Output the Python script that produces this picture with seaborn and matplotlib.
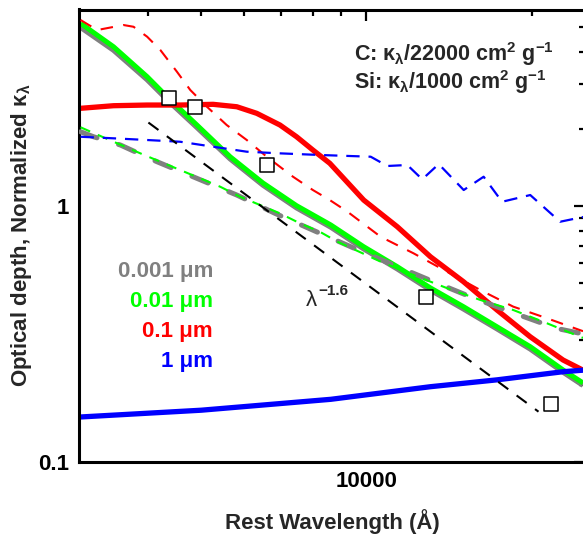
import matplotlib
matplotlib.use("Agg")
import matplotlib.pyplot as plt
import matplotlib.ticker as mticker
import seaborn as sns

# ---------------- data ----------------
# carbon grains (solid lines)
c_wl = [3020, 3467, 3992, 4362, 4918, 5652, 6488, 7468, 8621, 9896, 11390,
        13094, 15031, 17302, 19890, 22828, 24815]
c_001 = [5.183, 4.198, 3.204, 2.645, 2.074, 1.559, 1.230, 1.003, 0.843, 0.693,
         0.579, 0.478, 0.404, 0.337, 0.2817, 0.2284, 0.2032]          # 0.01 um
c_0001 = [5.00, 4.07, 3.12, 2.58, 2.03, 1.53, 1.207, 0.984, 0.827, 0.680,
          0.568, 0.469, 0.396, 0.331, 0.276, 0.224, 0.199]            # 0.001 um
c01_wl = [3020, 3467, 3992, 4585, 5264, 5813, 6321, 6966, 7468, 7996, 8585,
          9896, 11390, 13094, 15031, 17302, 19890, 22828, 24815]
c_01 = [2.411, 2.468, 2.483, 2.483, 2.499, 2.445, 2.304, 2.074, 1.866, 1.656,
        1.469, 1.055, 0.830, 0.633, 0.506, 0.392, 0.308, 0.2498, 0.228]  # 0.1 um
c1_wl = [3020, 5007, 8621, 13094, 17302, 22828, 24815]
c_1 = [0.1496, 0.159, 0.1754, 0.1965, 0.209, 0.2249, 0.228]           # 1 um

# silicate grains (dashed lines)
s01_wl = [3020, 3238, 3615, 3770, 3992, 4219, 4523, 4783, 5129, 5572, 6061,
          6590, 7357, 7996, 8585, 9245, 10624, 12197, 14042, 16140, 18525,
          21325, 24508, 24815]
s_01 = [5.339, 4.879, 5.104, 5.025, 4.594, 4.075, 3.351, 2.843, 2.445, 2.074,
        1.812, 1.559, 1.302, 1.155, 1.055, 0.950, 0.758, 0.653, 0.553, 0.469,
        0.404, 0.364, 0.327, 0.324]
s1_wl = [3020, 3467, 3992, 4585, 5264, 6061, 6966, 8268, 10190, 10925, 11880,
         12647, 13552, 15048, 16360, 17672, 19890, 22540, 24815]
s_1 = [1.866, 1.840, 1.812, 1.784, 1.706, 1.631, 1.607, 1.583, 1.559, 1.434,
       1.447, 1.272, 1.459, 1.155, 1.302, 1.039, 1.104, 0.868, 0.906]
s001_wl = [3020, 3283, 3521, 3880, 4219, 4585, 4986, 5421, 5893, 6409, 6966,
           7573, 8234, 8866, 10624, 12197, 14042, 16140, 18525, 21325, 24508, 24815]
s_001 = [2.032, 1.878, 1.759, 1.607, 1.490, 1.383, 1.283, 1.190, 1.087, 1.009,
         0.936, 0.856, 0.793, 0.725, 0.606, 0.537, 0.477, 0.429, 0.392, 0.348,
         0.308, 0.305]
s0001_wl = [3020, 3189, 3569, 4161, 4918, 5813, 6824, 8121, 9491, 11216, 13258,
            15672, 18525, 22233, 24815]
s_0001 = [1.952, 1.866, 1.732, 1.490, 1.283, 1.104, 0.936, 0.793, 0.685, 0.588,
          0.506, 0.437, 0.382, 0.332, 0.316]

# lambda^-1.6 reference line (end points)
pl_wl = [4013, 20590]
pl_val = [2.121, 0.1569]

# open squares
sq_wl = [4368, 4883, 6590, 12862, 21682]
sq_val = [2.652, 2.445, 1.447, 0.442, 0.168]

size_labels = ["0.001 \u03bcm", "0.01 \u03bcm", "0.1 \u03bcm", "1 \u03bcm"]
size_colors = ["#808080", "#00ff00", "#ff0000", "#0000ff"]

# ---------------- style ----------------
sns.set_style("white")
plt.rcParams["font.family"] = ["Liberation Sans", "DejaVu Sans"]
plt.rcParams["font.weight"] = "bold"
plt.rcParams["mathtext.fontset"] = "custom"
plt.rcParams["mathtext.rm"] = "Liberation Sans:bold"
plt.rcParams["mathtext.it"] = "Liberation Sans:bold"
plt.rcParams["mathtext.bf"] = "Liberation Sans:bold"
plt.rcParams["mathtext.default"] = "rm"

W, H = 583, 536
fig = plt.figure(figsize=(W / 100, H / 100), dpi=100)
ax = fig.add_axes([79 / W, (H - 461.7) / H, 505.8 / W, 452.2 / H])
ax.set_xscale("log")
ax.set_yscale("log")

GRAY, GREEN, RED, BLUE = size_colors

def line(x, y, color, lw, dashes=None, cap="butt", z=2):
    sns.lineplot(x=x, y=y, ax=ax, color=color, lw=lw, estimator=None,
                 sort=False, zorder=z)
    ln = ax.lines[-1]
    ln.set_solid_capstyle("butt")
    ln.set_solid_joinstyle("round")
    if dashes is not None:
        ln.set_dashes(dashes)
        ln.set_dash_capstyle(cap)
    return ln

# solid (carbon)
line(c_wl, c_0001, GRAY, 3.8, z=2)
line(c_wl, c_001, GREEN, 3.6, z=2.1)
line(c01_wl, c_01, RED, 3.8, z=2.2)
line(c1_wl, c_1, BLUE, 3.8, z=2.3)
# dashed (silicate)
line(s0001_wl, s_0001, GRAY, 3.6, dashes=(3.5, 4.5), cap="round", z=3)
line(s001_wl, s_001, GREEN, 1.5, dashes=(5, 4), z=3.1)
line(s01_wl, s_01, RED, 1.5, dashes=(6, 5), z=3.2)
line(s1_wl, s_1, BLUE, 1.6, dashes=(6, 4), z=3.3)
line(pl_wl, pl_val, "black", 1.5, dashes=(6, 5), z=3.4)

sns.scatterplot(x=sq_wl, y=sq_val, ax=ax, marker="s", s=95, color="white",
                edgecolor="black", linewidth=1.1, zorder=5)

ax.set_xlim(3000, 25000)
ax.set_ylim(0.1, 5.87)

ax.xaxis.set_major_locator(mticker.FixedLocator([10000]))
ax.xaxis.set_major_formatter(mticker.FixedFormatter(["10000"]))
ax.xaxis.set_minor_locator(mticker.FixedLocator([4000, 5000, 6000, 7000, 8000, 9000, 20000]))
ax.xaxis.set_minor_formatter(mticker.NullFormatter())
ax.yaxis.set_major_locator(mticker.FixedLocator([0.1, 1]))
ax.yaxis.set_major_formatter(mticker.FixedFormatter(["0.1", "1"]))
ax.yaxis.set_minor_locator(mticker.FixedLocator([0.2, 0.3, 0.4, 0.5, 0.6, 0.7, 0.8, 0.9, 2, 3, 4, 5]))
ax.yaxis.set_minor_formatter(mticker.NullFormatter())

ax.tick_params(which="both", direction="in", top=True, right=True, width=1.6,
               colors="black", labelsize=16, pad=7)
ax.tick_params(which="major", length=8)
ax.tick_params(which="minor", length=4.5)
for lab in ax.get_xticklabels() + ax.get_yticklabels():
    lab.set_fontweight("bold")
for sp in ax.spines.values():
    sp.set_linewidth(2.2)
    sp.set_color("black")

ax.set_xlabel("Rest Wavelength (\u00c5)", fontsize=16, fontweight="bold")
ax.xaxis.label.set_va("center")
ax.xaxis.set_label_coords(0.5, (461.7 - 522) / 452.2)
ax.set_ylabel("Optical depth, Normalized \u03ba$_\u03bb$", fontsize=16, fontweight="bold")
ax.yaxis.label.set_va("center")
ax.yaxis.set_label_coords((22 - 79) / 505.8, 0.5)

def ftext(px, py, s, **kw):
    fig.text(px / W, 1 - py / H, s, **kw)

ftext(354, 61.5, "C: \u03ba$_\u03bb$/22000 cm$^2$ g$^{-1}$", fontsize=15.5,
      fontweight="bold", ha="left", va="baseline")
ftext(354, 88.5, "Si: \u03ba$_\u03bb$/1000 cm$^2$ g$^{-1}$", fontsize=15.5,
      fontweight="bold", ha="left", va="baseline")

for lab, col, py in zip(size_labels, size_colors, [272, 301.5, 331, 361]):
    ftext(213, py, lab, fontsize=16, fontweight="bold", color=col,
          ha="right", va="center")

ftext(306, 300, "\u03bb", fontsize=16, fontweight="normal", ha="left", va="center")
ftext(318, 291, "\u22121.6", fontsize=11, fontweight="bold", ha="left", va="center")

fig.savefig("out.png", dpi=100)
